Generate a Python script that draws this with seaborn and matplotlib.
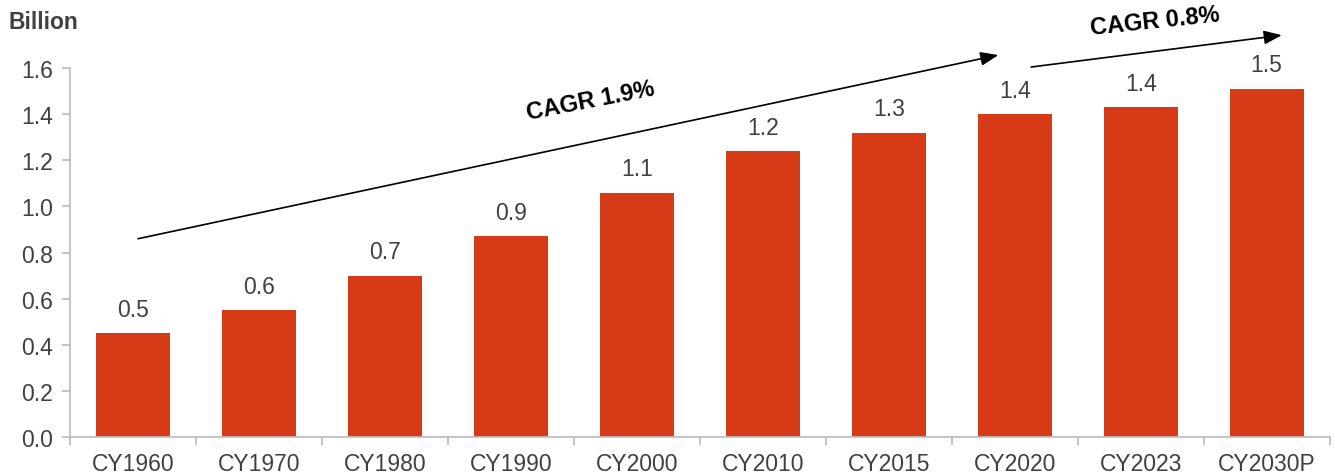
import numpy as np
import pandas as pd
import matplotlib
matplotlib.use("Agg")
import matplotlib.pyplot as plt
import seaborn as sns

# datos
years = ['CY1960', 'CY1970', 'CY1980', 'CY1990', 'CY2000', 'CY2010',
         'CY2015', 'CY2020', 'CY2023', 'CY2030P']
population = [0.45, 0.55, 0.70, 0.87, 1.06, 1.24, 1.32, 1.40, 1.43, 1.51]
labels = ['0.5', '0.6', '0.7', '0.9', '1.1', '1.2', '1.3', '1.4', '1.4', '1.5']
yticks = [0.0, 0.2, 0.4, 0.6, 0.8, 1.0, 1.2, 1.4, 1.6]

df = pd.DataFrame({'Año': years, 'Valor': population})

sns.set_theme(style='white')
plt.rcParams['font.family'] = ['Liberation Sans', 'DejaVu Sans']

bar_color = '#D63A16'
text_gray = '#404040'
axis_gray = '#BFBFBF'

fig = plt.figure(figsize=(13.35, 4.77), dpi=100)
ax = fig.add_axes([0.0524, 0.0818, 0.9436, 0.7732])

sns.barplot(data=df, x='Año', y='Valor', color=bar_color, width=0.59,
            saturation=1, linewidth=0, ax=ax)

ax.bar_label(ax.containers[0], labels=labels, padding=9,
             fontsize=16.5, color=text_gray)

ax.set_xlim(-0.5, len(years) - 0.5)
ax.set_ylim(0, 1.6)
ax.set_yticks(yticks)
ax.set_yticklabels([f'{v:.1f}' for v in yticks])
ax.set_xlabel('')
ax.set_ylabel('')

# marcas del eje x entre categorias
ax.set_xticks(np.arange(-0.5, len(years)), minor=True)
ax.tick_params(axis='x', which='major', length=0, pad=10.5,
               labelsize=16.5, labelcolor=text_gray)
ax.tick_params(axis='x', which='minor', length=6, width=1.3,
               color=axis_gray, direction='out', bottom=True)
ax.tick_params(axis='y', length=6, width=1.3, color=axis_gray,
               direction='out', left=True, pad=6,
               labelsize=16.5, labelcolor=text_gray)

for side in ['top', 'right']:
    ax.spines[side].set_visible(False)
for side in ['left', 'bottom']:
    ax.spines[side].set_color(axis_gray)
    ax.spines[side].set_linewidth(1.3)

fig.text(0.006, 0.953, 'Billion', fontsize=16.5, fontweight='bold',
         color=text_gray, ha='left', va='center')

# flechas CAGR
arrow_style = dict(arrowstyle='-|>,head_length=0.9,head_width=0.35',
                   color='black', lw=1.2, shrinkA=0, shrinkB=0)
ax.annotate('', xy=(6.87, 1.657), xytext=(0.04, 0.86),
            arrowprops=arrow_style, annotation_clip=False)
ax.annotate('', xy=(9.12, 1.743), xytext=(7.13, 1.605),
            arrowprops=arrow_style, annotation_clip=False)

ax.text(3.63, 1.462, 'CAGR 1.9%', fontsize=17, fontweight='bold',
        color='black', rotation=11, ha='center', va='center', clip_on=False)
ax.text(8.11, 1.805, 'CAGR 0.8%', fontsize=17, fontweight='bold',
        color='black', rotation=6, ha='center', va='center', clip_on=False)

fig.savefig('out.png', dpi=100)
